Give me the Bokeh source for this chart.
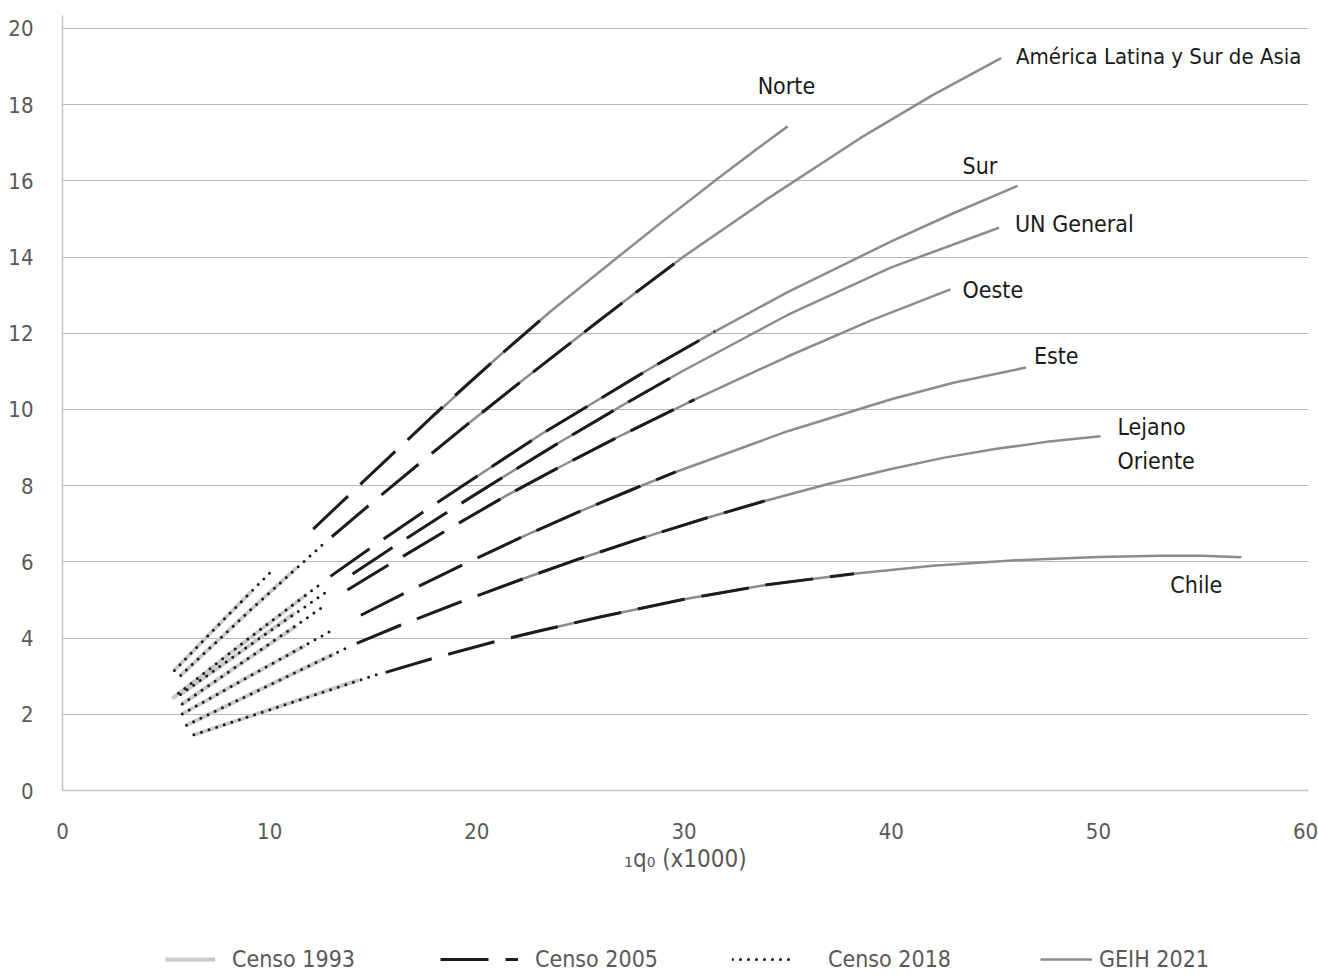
from bokeh.plotting import figure
from bokeh.models import Range1d, Label, Legend, LegendItem, FixedTicker
from bokeh.layouts import column
from bokeh.embed import file_html
from bokeh.resources import INLINE

# ---------------- data ----------------
families = ["Norte", "América Latina y Sur de Asia", "Sur", "UN General",
            "Oeste", "Este", "Lejano Oriente", "Chile"]

# Censo 1993 (light grey solid)
censo1993_x = [
    [5.4, 7.0, 9.1],
    [5.7, 8.5, 11.3],
    [5.3, 8.5, 11.8],
    [5.7, 8.5, 11.2],
    [5.78, 8.5, 11.3],
    [5.78, 8.5, 11.7],
    [5.98, 9.5, 13.1],
    [6.34, 10.0, 14.3],
]
censo1993_y = [
    [3.15, 4.05, 5.22],
    [3.02, 4.45, 5.85],
    [2.41, 3.77, 5.15],
    [2.52, 3.6, 4.66],
    [2.27, 3.29, 4.32],
    [2.01, 2.84, 3.8],
    [1.71, 2.64, 3.58],
    [1.46, 2.12, 2.9],
]

# Censo 2005 (black dashed)
censo2005_x = [
    [12.1, 14.5, 16.3, 18.6, 21.0, 23.55],
    [13.0, 15.0, 17.4, 20.0, 22.1, 25.8, 27.75, 30.0],
    [12.93, 14.86, 17.6, 20.3, 23.1, 26.0, 28.5, 31.5],
    [14.0, 16.1, 18.9, 21.6, 24.0, 27.0, 30.0],
    [13.75, 15.8, 18.6, 21.46, 24.0, 27.0, 30.5],
    [14.4, 16.55, 19.5, 22.4, 25.0, 27.5, 29.6],
    [14.2, 16.5, 19.5, 22.6, 25.0, 28.0, 31.0, 33.9],
    [15.6, 17.9, 21.1, 23.1, 26.0, 30.0, 34.0, 38.2],
]
censo2005_y = [
    [6.86, 8.1, 9.02, 10.2, 11.37, 12.57],
    [6.66, 7.58, 8.66, 9.81, 10.72, 12.29, 13.1, 14.02],
    [5.62, 6.36, 7.38, 8.35, 9.35, 10.3, 11.12, 12.05],
    [5.68, 6.44, 7.42, 8.34, 9.14, 10.1, 11.03],
    [5.26, 5.94, 6.85, 7.75, 8.49, 9.33, 10.26],
    [4.6, 5.19, 5.97, 6.71, 7.33, 7.9, 8.36],
    [3.86, 4.38, 5.01, 5.63, 6.09, 6.63, 7.14, 7.6],
    [3.1, 3.47, 3.94, 4.2, 4.56, 5.02, 5.4, 5.69],
]

# Censo 2018 (black dotted)
censo2018_x = [
    [5.4, 7.5, 10.2],
    [5.7, 9.0, 12.55],
    [5.6, 9.0, 12.55],
    [5.7, 9.0, 12.84],
    [5.78, 9.0, 12.6],
    [5.78, 9.0, 13.0],
    [5.98, 9.5, 13.85],
    [6.34, 10.0, 15.15],
]
censo2018_y = [
    [3.15, 4.33, 5.82],
    [3.02, 4.7, 6.45],
    [2.55, 4.0, 5.46],
    [2.52, 3.8, 5.25],
    [2.27, 3.48, 4.83],
    [2.01, 2.99, 4.2],
    [1.71, 2.64, 3.78],
    [1.46, 2.12, 3.04],
]

# GEIH 2021 (grey solid)
geih2021_x = [
    [18.0, 21.0, 23.55, 26.9, 29.0, 31.6, 33.5, 35.0],
    [19.2, 22.1, 25.8, 27.75, 30.0, 34.0, 38.5, 42.0, 45.3],
    [19.8, 23.1, 26.0, 28.5, 31.5, 35.0, 40.0, 43.0, 46.1],
    [19.7, 21.6, 24.0, 27.0, 30.0, 35.0, 40.0, 45.2],
    [20.3, 21.46, 24.0, 27.0, 30.5, 35.0, 39.0, 42.86],
    [20.5, 22.4, 25.0, 27.5, 29.6, 35.0, 40.0, 43.0, 46.5],
    [20.55, 22.6, 25.0, 28.0, 31.0, 33.9, 37.0, 40.0, 42.5, 45.0, 47.5, 50.1],
    [21.7, 23.1, 26.0, 30.0, 34.0, 38.2, 42.0, 46.0, 50.0, 53.0, 55.0, 56.9],
]
geih2021_y = [
    [9.87, 11.37, 12.57, 14.04, 14.95, 16.05, 16.83, 17.43],
    [9.46, 10.72, 12.29, 13.1, 14.02, 15.52, 17.12, 18.25, 19.22],
    [8.17, 9.35, 10.3, 11.12, 12.05, 13.08, 14.41, 15.15, 15.87],
    [7.7, 8.34, 9.14, 10.1, 11.03, 12.48, 13.73, 14.77],
    [7.39, 7.75, 8.49, 9.33, 10.26, 11.39, 12.33, 13.15],
    [6.22, 6.71, 7.33, 7.9, 8.36, 9.43, 10.27, 10.7, 11.1],
    [5.22, 5.63, 6.09, 6.63, 7.14, 7.6, 8.05, 8.44, 8.73, 8.96, 9.15, 9.3],
    [4.02, 4.2, 4.56, 5.02, 5.4, 5.69, 5.9, 6.04, 6.13, 6.16, 6.16, 6.12],
]

x_ticks = [0, 10, 20, 30, 40, 50, 60]
y_ticks = [0, 2, 4, 6, 8, 10, 12, 14, 16, 18, 20]

# ---------------- styling ----------------
FONT = "DejaVu Sans Condensed, Roboto, sans-serif"
TXT = "#595959"

p = figure(width=1318, height=885,
           x_range=Range1d(0, 60.14), y_range=Range1d(0, 20.34),
           output_backend="svg", toolbar_location=None,
           min_border_left=62, min_border_right=10,
           min_border_top=15, min_border_bottom=95)
p.outline_line_color = None
p.background_fill_color = "white"
p.border_fill_color = "white"

p.xgrid.grid_line_color = None
p.ygrid.grid_line_color = "#b9b9b9"
p.ygrid.grid_line_width = 1
p.ygrid.ticker = FixedTicker(ticks=y_ticks)

p.xaxis.ticker = FixedTicker(ticks=x_ticks)
p.yaxis.ticker = FixedTicker(ticks=y_ticks)
for ax in (p.xaxis[0], p.yaxis[0]):
    ax.major_tick_line_color = None
    ax.minor_tick_line_color = None
    ax.major_tick_out = 0
    ax.major_tick_in = 0
    ax.axis_line_color = "#c4c4c4"
    ax.axis_line_width = 1.5
    ax.major_label_text_font = FONT
    ax.major_label_text_font_size = "22px"
    ax.major_label_text_color = TXT
p.yaxis.major_label_standoff = 29
p.xaxis.major_label_standoff = 32
p.xaxis.axis_label = "\u2081q\u2080 (x1000)"
p.xaxis.axis_label_text_font = FONT
p.xaxis.axis_label_text_font_size = "24px"
p.xaxis.axis_label_text_font_style = "normal"
p.xaxis.axis_label_text_color = TXT
p.xaxis.axis_label_standoff = 3

styles = {
    "Censo 1993": dict(line_color="#cacaca", line_width=4),
    "GEIH 2021": dict(line_color="#8c8c8c", line_width=2.5),
    "Censo 2005": dict(line_color="#1c1c1c", line_width=3, line_dash="48 17"),
    "Censo 2018": dict(line_color="#1c1c1c", line_width=3, line_dash="0 8",
                       line_cap="round"),
}
data = {
    "Censo 1993": (censo1993_x, censo1993_y),
    "GEIH 2021": (geih2021_x, geih2021_y),
    "Censo 2005": (censo2005_x, censo2005_y),
    "Censo 2018": (censo2018_x, censo2018_y),
}
for name in ["Censo 1993", "GEIH 2021", "Censo 2005", "Censo 2018"]:
    xs_all, ys_all = data[name]
    for xs, ys in zip(xs_all, ys_all):
        p.line(xs, ys, **styles[name])

# ---------------- family labels (anchored on end of GEIH curve) ----------------
label_offsets = {
    "Norte": [("Norte", -30, 40, "23px")],
    "América Latina y Sur de Asia": [("América Latina y Sur de Asia", 15, 2, "22px")],
    "Sur": [("Sur", -55, 20, "23px")],
    "UN General": [("UN General", 16, 4, "23px")],
    "Oeste": [("Oeste", 12, -1, "23px")],
    "Este": [("Este", 8, 12, "23px")],
    "Lejano Oriente": [("Lejano", 17, 9, "23px"), ("Oriente", 17, -25, "23px")],
    "Chile": [("Chile", -71, -28, "23px")],
}
for i, fam in enumerate(families):
    xe, ye = geih2021_x[i][-1], geih2021_y[i][-1]
    for txt, dx, dy, fs in label_offsets[fam]:
        p.add_layout(Label(x=xe, y=ye, x_offset=dx, y_offset=dy, text=txt,
                           text_font=FONT, text_font_size=fs,
                           text_color="#1a1a1a", text_baseline="middle",
                           text_align="left"))

# ---------------- legend strip (separate small figure, frame aligned) ----------------
lf = figure(width=1318, height=92, x_range=Range1d(0, 1), y_range=Range1d(0, 1),
            x_axis_type=None, y_axis_type=None,
            output_backend="svg", toolbar_location=None,
            min_border_left=62, min_border_right=10,
            min_border_top=0, min_border_bottom=0)
lf.outline_line_color = None
lf.grid.visible = False

# (series, glyph left edge relative to frame, glyph width, label standoff)
legend_layout = [
    ("Censo 1993", 103, 50, 17),
    ("Censo 2005", 378, 78, 17),
    ("Censo 2018", 670, 58, 38),
    ("GEIH 2021", 978, 52, 7),
]
for name, lx, gw, so in legend_layout:
    # proxy renderer lying outside the visible range, used only for its style
    r = lf.line([-5, -4], [-5, -4], **styles[name])
    lg = Legend(items=[LegendItem(label=name, renderers=[r])],
                location=(lx, 5), orientation="horizontal",
                glyph_width=gw, glyph_height=20, label_standoff=so,
                label_text_font=FONT, label_text_font_size="23px",
                label_text_color=TXT, label_height=24,
                padding=0, margin=0, spacing=0,
                border_line_color=None, background_fill_alpha=0)
    lf.add_layout(lg, "center")

open("out.html", "w").write(file_html(column(p, lf, spacing=0), INLINE))
